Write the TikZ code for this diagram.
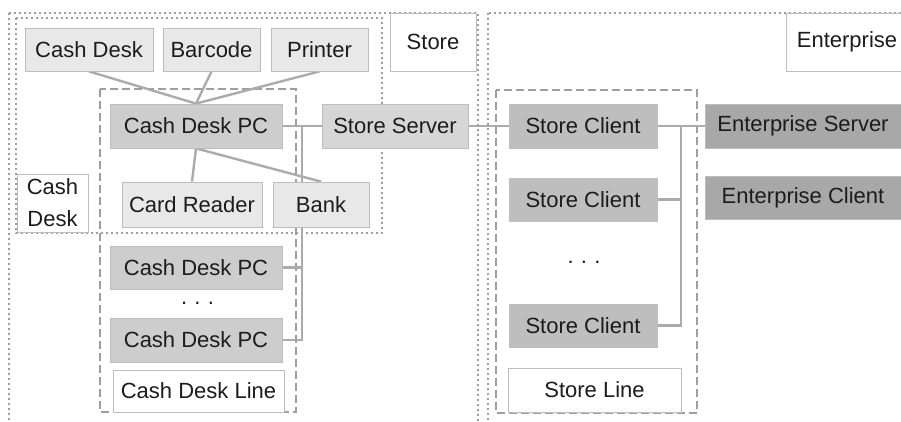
\documentclass[tikz,border=0pt]{standalone}
\usepackage{fontspec}
\setmainfont{Liberation Sans}
\usetikzlibrary{backgrounds}
\definecolor{lightfill}{HTML}{E8E8E8}
\definecolor{pcfill}{HTML}{CDCDCD}
\definecolor{ssfill}{HTML}{D6D6D6}
\definecolor{scfill}{HTML}{BEBEBE}
\definecolor{entfill}{HTML}{A8A8A8}
\definecolor{nodeborder}{HTML}{BDBDBD}
\definecolor{framecol}{HTML}{9E9E9E}
\definecolor{linkcol}{HTML}{ABABAB}
\definecolor{textcol}{HTML}{1C1C1C}
\tikzset{
  box/.style={draw=nodeborder, line width=0.8pt, inner sep=0pt, text=textcol, align=center},
  light/.style={box, fill=lightfill},
  pcbox/.style={box, fill=pcfill},
  ssbox/.style={box, fill=ssfill},
  scbox/.style={box, fill=scfill},
  entbox/.style={box, fill=entfill},
  labelbox/.style={box, fill=white},
  dotframe/.style={draw=framecol, line width=1.7pt, dash pattern=on 1.7pt off 3.3pt},
  dashframe/.style={draw=framecol, line width=1.2pt, dash pattern=on 8pt off 4pt},
  link/.style={draw=linkcol, line width=2.4pt},
  ellip/.style={inner sep=0pt, text=textcol, anchor=base}
}
\begin{document}
\begin{tikzpicture}[x=1pt, y=-1pt, font=\fontsize{22}{32}\selectfont]
\useasboundingbox (0,0) rectangle (901,421);
% Cash desk nodes
\node[light, minimum width=128pt, minimum height=43pt] (cd) at (89,49.5) {Cash Desk};
\node[light, minimum width=97pt, minimum height=43pt] (bc) at (211.5,49.5) {Barcode};
\node[light, minimum width=97pt, minimum height=43pt] (pr) at (319.5,49.5) {Printer};
\node[pcbox, minimum width=172pt, minimum height=44pt] (pc1) at (196,126) {Cash Desk PC};
\node[ssbox, minimum width=146pt, minimum height=44pt] (ss) at (395,126) {Store Server};
\node[light, minimum width=140pt, minimum height=45pt] (cr) at (192,204.5) {Card Reader};
\node[light, minimum width=96pt, minimum height=45pt] (bank) at (321,204.5) {Bank};
\node[pcbox, minimum width=172pt, minimum height=43pt] (pc2) at (196,267.5) {Cash Desk PC};
\node[ellip] (dots1) at (197.5,304.5) {.\,\,.\,\,.};
\node[pcbox, minimum width=172pt, minimum height=44pt] (pc3) at (196,340) {Cash Desk PC};
\node[labelbox, minimum width=171pt, minimum height=42pt] (cdl) at (198.5,391) {Cash Desk Line};
\node[labelbox, minimum width=71pt, minimum height=58pt] (cdlab) at (52.5,203) {Cash\\Desk};
\node[labelbox, minimum width=86pt, minimum height=58pt] (stlab) at (433,42) {Store};
\node[labelbox, minimum width=122pt, minimum height=58pt] (entlab) at (847,42) {Enterprise};
% Store line nodes
\node[scbox, minimum width=148pt, minimum height=44pt] (sc1) at (583,126) {Store Client};
\node[scbox, minimum width=148pt, minimum height=43pt] (sc2) at (583,199.5) {Store Client};
\node[ellip] (dots2) at (584,263.5) {.\,\,.\,\,.};
\node[scbox, minimum width=148pt, minimum height=43pt] (sc3) at (583,325.5) {Store Client};
\node[labelbox, minimum width=173pt, minimum height=44pt] (sl) at (594.5,390) {Store Line};
% Enterprise nodes
\node[entbox, minimum width=196pt, minimum height=44pt] (es) at (803,126) {Enterprise Server};
\node[entbox, minimum width=196pt, minimum height=43pt] (ec) at (803,197.5) {Enterprise Client};
\coordinate (j1) at (302,126);
\coordinate (j2) at (681,126);
\begin{pgfonlayer}{background}
  % frames
  \draw[dotframe] (9,13) rectangle (478,440);
  \draw[dotframe] (16,18) rectangle (382,233);
  \draw[dotframe] (488,13) rectangle (930,440);
  \draw[dashframe] (100,89) rectangle (296,412);
  \draw[dashframe] (496,90) rectangle (697,413);
  % connectors
  \draw[link] (cd.south) -- (pc1.north);
  \draw[link] (bc.south) -- (pc1.north);
  \draw[link] (pr.south) -- (pc1.north);
  \draw[link] (pc1.south) -- (cr.north);
  \draw[link] (pc1.south) -- (bank.north);
  \draw[link] (pc1.east) -- (ss.west);
  \draw[link] (j1) |- (pc3.east);
  \draw[link] (pc2.east) -- (pc2.east -| j1);
  \draw[link] (ss.east) -- (sc1.west);
  \draw[link] (sc1.east) -- (es.west);
  \draw[link] (j2) |- (sc3.east);
  \draw[link] (sc2.east) -- (sc2.east -| j2);
\end{pgfonlayer}
\end{tikzpicture}
\end{document}
